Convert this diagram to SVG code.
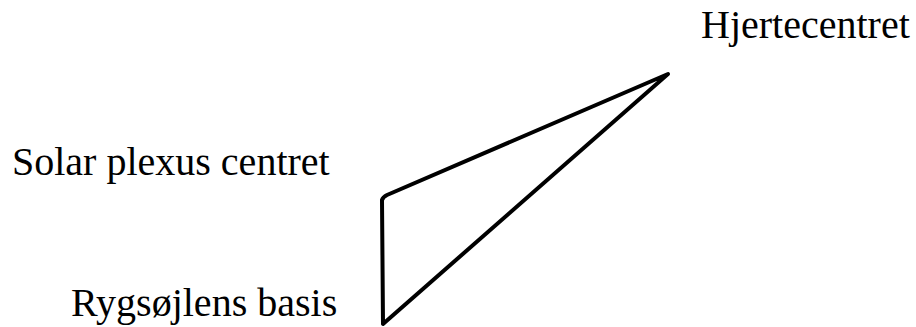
<svg xmlns="http://www.w3.org/2000/svg" width="916" height="327" viewBox="0 0 916 327">
<style>
.edge{fill:none;stroke:#000;stroke-width:4;stroke-linecap:round;stroke-linejoin:round}
</style>
<rect width="916" height="327" fill="#fff"/>
<g id="connectors">
<path class="edge" d="M382,200 Q383,197 387,195 L668,74 L383,324 L382,200 Z"/>
</g>
<g font-family="Times New Roman, Liberation Serif, serif" font-size="40" fill="#000">
<g id="hjertecentret"><text x="701" y="38">Hjertecentret</text></g>
<g id="solar-plexus"><text x="12" y="175">Solar plexus centret</text></g>
<g id="rygsoejlens-basis"><text x="71" y="316">Rygsøjlens basis</text></g>
</g>
</svg>
